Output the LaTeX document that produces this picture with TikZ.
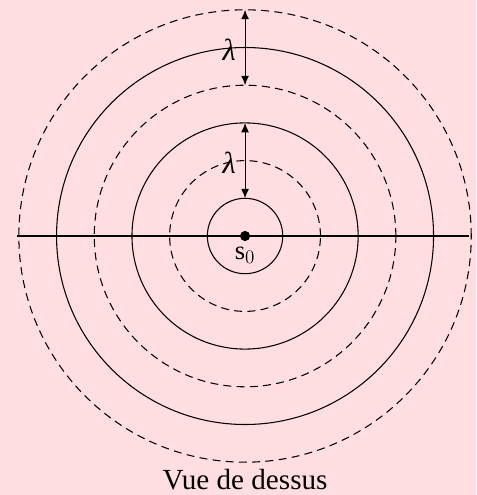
\documentclass[tikz,border=0pt]{standalone}
\usepackage{fontspec}
\setmainfont{Liberation Serif}
\usetikzlibrary{arrows.meta}
\definecolor{fondrose}{RGB}{255,222,225}
\tikzset{
  onde/.style={line width=0.8pt},
  ondepointe/.style={line width=0.8pt,dash pattern=on 6pt off 4pt},
  fleche/.style={line width=0.8pt,{Latex[length=2.5mm,width=2.1mm]}-{Latex[length=2.5mm,width=2.1mm]}},
  lambdalbl/.style={font=\fontsize{23}{27}\selectfont\itshape,anchor=east,inner sep=1pt}
}
\begin{document}
\begin{tikzpicture}[>=Latex]
\fill[fondrose] (-6.5,-6.87) rectangle (6.13,6.26);
\useasboundingbox (-6.5,-6.87) rectangle (6.13,6.26);
% fronts d'onde
\foreach \r in {1,3,5} \draw[onde] (0,0) circle (\r);
\foreach \r in {2,4,6} \draw[ondepointe] (0,0) circle (\r);
% axe
\coordinate (axeG) at (-6.05,0);
\coordinate (axeD) at (5.95,0);
\draw[onde] (axeG) -- (axeD);
% source
\node[circle,fill=black,inner sep=0pt,minimum size=2.7mm] (src) at (0,0) {};
\node[font=\fontsize{20}{24}\selectfont] (lbl_src) at (0,-0.5) {s$_0$};
% longueurs d'onde
\coordinate (h1) at (0,6);
\coordinate (b1) at (0,4);
\coordinate (h2) at (0,3);
\coordinate (b2) at (0,1);
\draw[fleche] (h1) -- (b1);
\draw[fleche] (h2) -- (b2);
\node[lambdalbl] (lam1) at (-0.2,4.95) {λ};
\node[lambdalbl] (lam2) at (-0.2,1.95) {λ};
% titre
\node[font=\fontsize{22}{26}\selectfont,inner sep=1pt] (titre) at (0,-6.45) {Vue de dessus};
\end{tikzpicture}
\end{document}
